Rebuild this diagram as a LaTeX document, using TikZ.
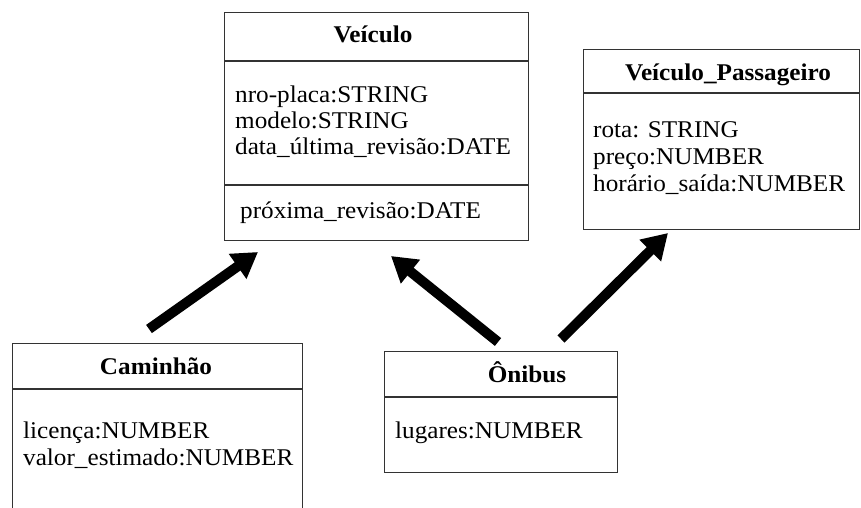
\documentclass[tikz,border=0pt]{standalone}
\usepackage{fontspec}
\setmainfont{Liberation Serif}[FakeStretch=1.05]
\newfontfamily\titlefont{Liberation Serif}[FakeStretch=1.05]
\usetikzlibrary{arrows.meta}
\begin{document}
\begin{tikzpicture}[x=1pt,y=-1pt,
  box/.style={draw=black!80, line width=1.3pt, rectangle, inner sep=0pt, anchor=north west},
  sep/.style={draw=black!80, line width=1.3pt},
  title/.style={font=\titlefont\fontsize{24}{28}\selectfont\bfseries, anchor=base, inner sep=0pt},
  attr/.style={font=\fontsize{24}{28}\selectfont, anchor=base west, inner sep=0pt},
  inh/.style={line width=10pt, -{Triangle[length=25pt,width=29pt]}}]
\useasboundingbox (0,0) rectangle (861,507);
\fill[white] (0,0) rectangle (861,507);
% Veiculo
\node[box, minimum width=304pt, minimum height=228pt] (veic) at (224,12) {};
\draw[sep] (224,61) -- (528,61);
\draw[sep] (224,185) -- (528,185);
\node[title] (tveic) at (373,42) {Veículo};
\node[attr] (v1) at (235,102) {nro-placa:STRING};
\node[attr] (v2) at (235,128) {modelo:STRING};
\node[attr] (v3) at (235,154) {data\_última\_revisão:DATE};
\node[attr] (v4) at (240,218) {próxima\_revisão:DATE};
% Veiculo_Passageiro
\node[box, minimum width=276pt, minimum height=180pt] (pass) at (583,49) {};
\draw[sep] (583,93) -- (859,93);
\node[title] (tpass) at (728,80) {Veículo\_Passageiro};
\node[attr] (p1) at (593,137) {rota: STRING};
\node[attr] (p2) at (593,164) {preço:NUMBER};
\node[attr] (p3) at (593,191) {horário\_saída:NUMBER};
% Caminhao
\node[box, minimum width=290pt, minimum height=180pt] (cam) at (12,343) {};
\draw[sep] (12,389) -- (302,389);
\node[title] (tcam) at (156,374) {Caminhão};
\node[attr] (c1) at (23,438) {licença:NUMBER};
\node[attr] (c2) at (23,465) {valor\_estimado:NUMBER};
% Onibus
\node[box, minimum width=233pt, minimum height=121pt] (oni) at (384,351) {};
\draw[sep] (384,397) -- (617,397);
\node[title] (toni) at (527,382) {Ônibus};
\node[attr] (o1) at (395,438) {lugares:NUMBER};
% arrows
\coordinate (a1s) at (149,329);
\coordinate (a1e) at (258,252);
\coordinate (a2s) at (498,342);
\coordinate (a2e) at (391,256);
\coordinate (a3s) at (561,339);
\coordinate (a3e) at (668,233);
\draw[inh] (a1s) -- (a1e);
\draw[inh] (a2s) -- (a2e);
\draw[inh] (a3s) -- (a3e);
\end{tikzpicture}
\end{document}
